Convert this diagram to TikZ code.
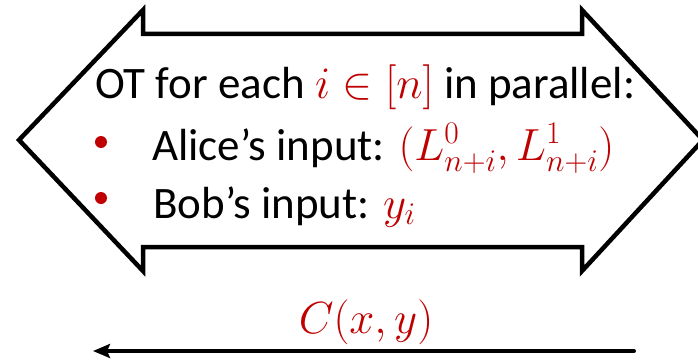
\RequirePackage{fix-cm}
\documentclass[tikz,border=0pt]{standalone}
\usepackage{fontspec}
\setmainfont{Carlito}
\usetikzlibrary{arrows.meta}
\definecolor{otred}{RGB}{192,0,0}
\begin{document}
\begin{tikzpicture}[x=1pt,y=-1pt,
  txt/.style={anchor=base west,inner sep=0pt,font=\fontsize{45}{45}\selectfont},
  bulletdot/.style={circle,fill=otred,inner sep=0pt,minimum size=12pt},
  outline/.style={draw=black,line width=4.5pt,line join=miter,fill=white},
  flow/.style={draw=black,line width=4pt,line cap=round,-{Stealth[length=17pt,width=14pt,inset=3pt]}}]
\useasboundingbox (0,0) rectangle (698,361);
\begin{scope}
\clip (0,0) rectangle (698,361);
\draw[outline] (19,140) -- (143,10) -- (143,34) -- (582,34) -- (582,10) -- (703,140)
  -- (582,271) -- (582,247) -- (143,247) -- (143,271) -- cycle;
\end{scope}
\node[txt] (l1) at (95,98) {OT for each {\color{otred}$i\in[n]$} in parallel:};
\node[bulletdot] (b1) at (101,142) {};
\node[txt] (l2) at (152,160) {Alice’s input: {\color{otred}$\bigl(L^0_{n+i},L^1_{n+i}\bigr)$}};
\node[bulletdot] (b2) at (101,198) {};
\node[txt] (l3) at (153,218) {Bob’s input: {\color{otred}$y_i$}};
\node[txt,anchor=base] (clab) at (366,333) {\color{otred}$C(x,y)$};
\coordinate (bstart) at (634,351);
\coordinate (bend) at (93,351);
\draw[flow] (bstart) -- (bend);
\end{tikzpicture}
\end{document}
